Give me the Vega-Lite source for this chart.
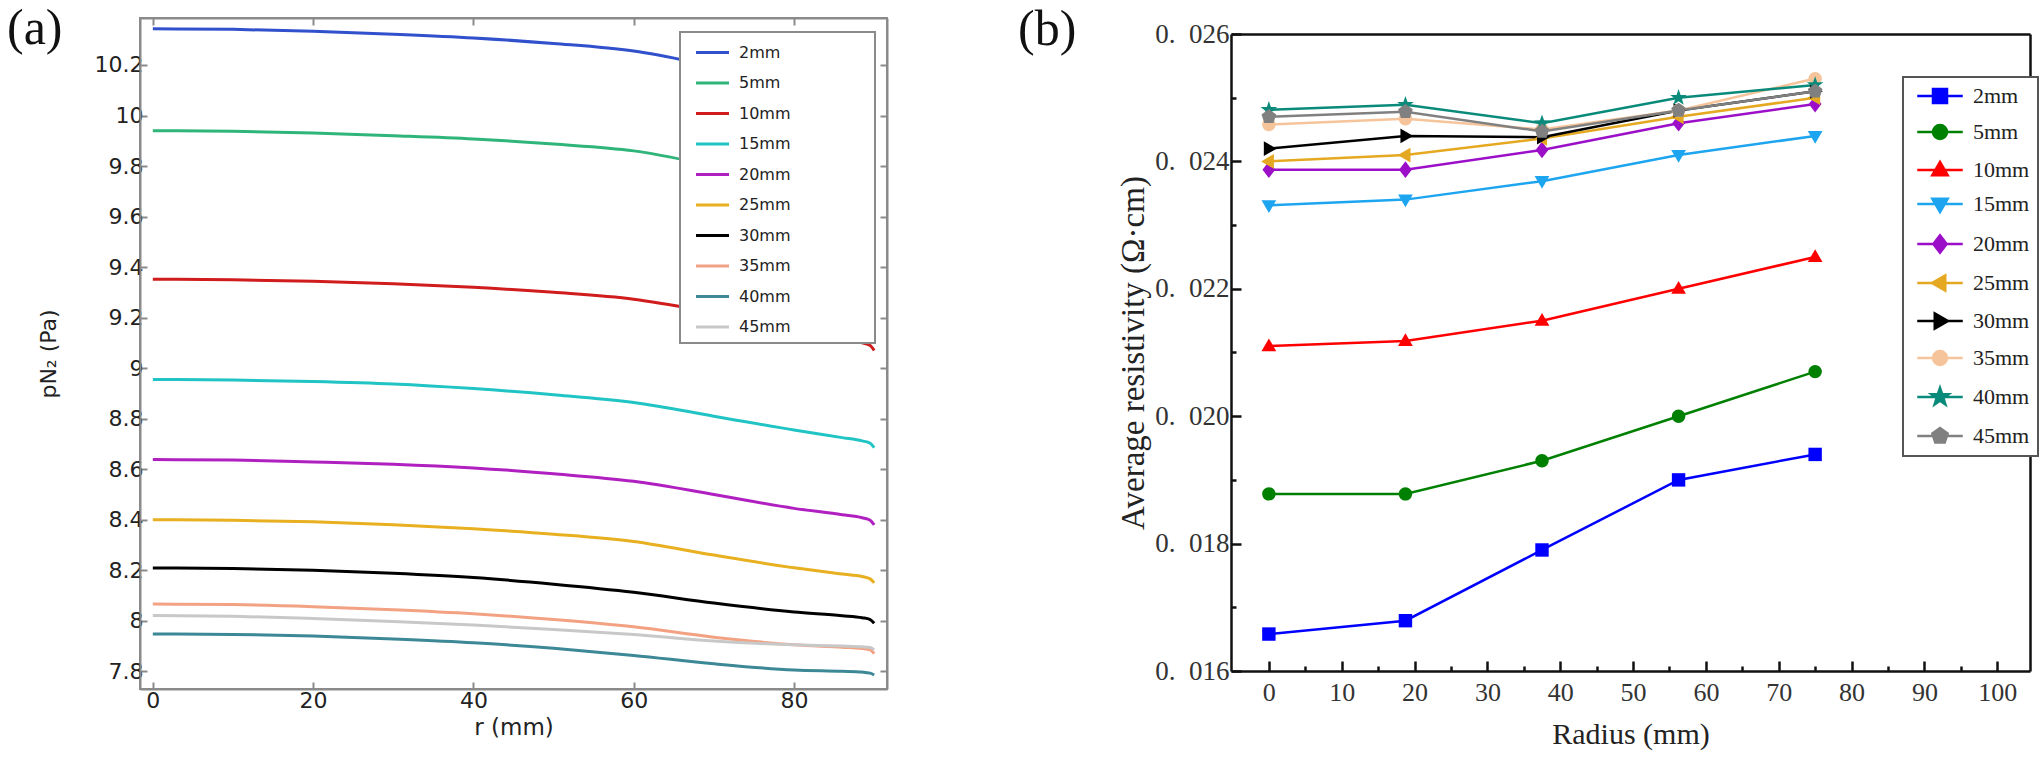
{
  "$schema": "https://vega.github.io/schema/vega-lite/v6.json",
  "background": "white",
  "padding": {"left": 6, "top": 3, "right": 2, "bottom": 2},
  "spacing": 129,
  "config": {"view": {"stroke": null}, "axis": {"grid": false}, "legend": {"strokeWidth": 2}},
  "datasets": {
    "pressure": [
      {"r": 0, "depth": "2mm", "p": 10.343}, {"r": 10, "depth": "2mm", "p": 10.341}, {"r": 20, "depth": "2mm", "p": 10.334}, {"r": 30, "depth": "2mm", "p": 10.322}, {"r": 40, "depth": "2mm", "p": 10.307}, {"r": 50, "depth": "2mm", "p": 10.285}, {"r": 60, "depth": "2mm", "p": 10.255}, {"r": 70, "depth": "2mm", "p": 10.195}, {"r": 80, "depth": "2mm", "p": 10.13}, {"r": 86, "depth": "2mm", "p": 10.09}, {"r": 88.5, "depth": "2mm", "p": 10.07}, {"r": 89.5, "depth": "2mm", "p": 10.055}, {"r": 90, "depth": "2mm", "p": 10.025},
      {"r": 0, "depth": "5mm", "p": 9.94}, {"r": 10, "depth": "5mm", "p": 9.938}, {"r": 20, "depth": "5mm", "p": 9.931}, {"r": 30, "depth": "5mm", "p": 9.92}, {"r": 40, "depth": "5mm", "p": 9.907}, {"r": 50, "depth": "5mm", "p": 9.887}, {"r": 60, "depth": "5mm", "p": 9.86}, {"r": 70, "depth": "5mm", "p": 9.8}, {"r": 80, "depth": "5mm", "p": 9.73}, {"r": 86, "depth": "5mm", "p": 9.69}, {"r": 88.5, "depth": "5mm", "p": 9.67}, {"r": 89.5, "depth": "5mm", "p": 9.655}, {"r": 90, "depth": "5mm", "p": 9.635},
      {"r": 0, "depth": "10mm", "p": 9.352}, {"r": 10, "depth": "10mm", "p": 9.35}, {"r": 20, "depth": "10mm", "p": 9.344}, {"r": 30, "depth": "10mm", "p": 9.334}, {"r": 40, "depth": "10mm", "p": 9.32}, {"r": 50, "depth": "10mm", "p": 9.3}, {"r": 60, "depth": "10mm", "p": 9.273}, {"r": 70, "depth": "10mm", "p": 9.22}, {"r": 80, "depth": "10mm", "p": 9.16}, {"r": 86, "depth": "10mm", "p": 9.12}, {"r": 88.5, "depth": "10mm", "p": 9.1}, {"r": 89.5, "depth": "10mm", "p": 9.09}, {"r": 90, "depth": "10mm", "p": 9.07},
      {"r": 0, "depth": "15mm", "p": 8.955}, {"r": 10, "depth": "15mm", "p": 8.953}, {"r": 20, "depth": "15mm", "p": 8.947}, {"r": 30, "depth": "15mm", "p": 8.937}, {"r": 40, "depth": "15mm", "p": 8.919}, {"r": 50, "depth": "15mm", "p": 8.895}, {"r": 60, "depth": "15mm", "p": 8.864}, {"r": 70, "depth": "15mm", "p": 8.81}, {"r": 80, "depth": "15mm", "p": 8.755}, {"r": 86, "depth": "15mm", "p": 8.725}, {"r": 88.5, "depth": "15mm", "p": 8.712}, {"r": 89.5, "depth": "15mm", "p": 8.703}, {"r": 90, "depth": "15mm", "p": 8.685},
      {"r": 0, "depth": "20mm", "p": 8.638}, {"r": 10, "depth": "20mm", "p": 8.636}, {"r": 20, "depth": "20mm", "p": 8.629}, {"r": 30, "depth": "20mm", "p": 8.62}, {"r": 40, "depth": "20mm", "p": 8.605}, {"r": 50, "depth": "20mm", "p": 8.582}, {"r": 60, "depth": "20mm", "p": 8.552}, {"r": 70, "depth": "20mm", "p": 8.5}, {"r": 80, "depth": "20mm", "p": 8.445}, {"r": 86, "depth": "20mm", "p": 8.42}, {"r": 88.5, "depth": "20mm", "p": 8.408}, {"r": 89.5, "depth": "20mm", "p": 8.398}, {"r": 90, "depth": "20mm", "p": 8.38},
      {"r": 0, "depth": "25mm", "p": 8.4}, {"r": 10, "depth": "25mm", "p": 8.398}, {"r": 20, "depth": "25mm", "p": 8.392}, {"r": 30, "depth": "25mm", "p": 8.38}, {"r": 40, "depth": "25mm", "p": 8.364}, {"r": 50, "depth": "25mm", "p": 8.343}, {"r": 60, "depth": "25mm", "p": 8.314}, {"r": 70, "depth": "25mm", "p": 8.26}, {"r": 80, "depth": "25mm", "p": 8.21}, {"r": 86, "depth": "25mm", "p": 8.185}, {"r": 88.5, "depth": "25mm", "p": 8.175}, {"r": 89.5, "depth": "25mm", "p": 8.166}, {"r": 90, "depth": "25mm", "p": 8.15},
      {"r": 0, "depth": "30mm", "p": 8.209}, {"r": 10, "depth": "30mm", "p": 8.207}, {"r": 20, "depth": "30mm", "p": 8.2}, {"r": 30, "depth": "30mm", "p": 8.188}, {"r": 40, "depth": "30mm", "p": 8.171}, {"r": 50, "depth": "30mm", "p": 8.145}, {"r": 60, "depth": "30mm", "p": 8.113}, {"r": 70, "depth": "30mm", "p": 8.07}, {"r": 80, "depth": "30mm", "p": 8.035}, {"r": 86, "depth": "30mm", "p": 8.02}, {"r": 88.5, "depth": "30mm", "p": 8.012}, {"r": 89.5, "depth": "30mm", "p": 8.005}, {"r": 90, "depth": "30mm", "p": 7.99},
      {"r": 0, "depth": "35mm", "p": 8.066}, {"r": 10, "depth": "35mm", "p": 8.064}, {"r": 20, "depth": "35mm", "p": 8.056}, {"r": 30, "depth": "35mm", "p": 8.044}, {"r": 40, "depth": "35mm", "p": 8.028}, {"r": 50, "depth": "35mm", "p": 8.005}, {"r": 60, "depth": "35mm", "p": 7.976}, {"r": 70, "depth": "35mm", "p": 7.935}, {"r": 80, "depth": "35mm", "p": 7.905}, {"r": 86, "depth": "35mm", "p": 7.895}, {"r": 88.5, "depth": "35mm", "p": 7.89}, {"r": 89.5, "depth": "35mm", "p": 7.885}, {"r": 90, "depth": "35mm", "p": 7.87},
      {"r": 0, "depth": "40mm", "p": 7.948}, {"r": 10, "depth": "40mm", "p": 7.946}, {"r": 20, "depth": "40mm", "p": 7.94}, {"r": 30, "depth": "40mm", "p": 7.928}, {"r": 40, "depth": "40mm", "p": 7.913}, {"r": 50, "depth": "40mm", "p": 7.891}, {"r": 60, "depth": "40mm", "p": 7.863}, {"r": 70, "depth": "40mm", "p": 7.83}, {"r": 80, "depth": "40mm", "p": 7.805}, {"r": 86, "depth": "40mm", "p": 7.8}, {"r": 88.5, "depth": "40mm", "p": 7.797}, {"r": 89.5, "depth": "40mm", "p": 7.793}, {"r": 90, "depth": "40mm", "p": 7.785},
      {"r": 0, "depth": "45mm", "p": 8.021}, {"r": 10, "depth": "45mm", "p": 8.018}, {"r": 20, "depth": "45mm", "p": 8.009}, {"r": 30, "depth": "45mm", "p": 7.997}, {"r": 40, "depth": "45mm", "p": 7.983}, {"r": 50, "depth": "45mm", "p": 7.966}, {"r": 60, "depth": "45mm", "p": 7.946}, {"r": 70, "depth": "45mm", "p": 7.92}, {"r": 80, "depth": "45mm", "p": 7.905}, {"r": 86, "depth": "45mm", "p": 7.9}, {"r": 88.5, "depth": "45mm", "p": 7.897}, {"r": 89.5, "depth": "45mm", "p": 7.894}, {"r": 90, "depth": "45mm", "p": 7.885}
    ],
    "resistivity": [
      {"radius": 0, "depth": "2mm", "rho": 0.01658}, {"radius": 18.75, "depth": "2mm", "rho": 0.01679}, {"radius": 37.5, "depth": "2mm", "rho": 0.0179}, {"radius": 56.25, "depth": "2mm", "rho": 0.019}, {"radius": 75, "depth": "2mm", "rho": 0.0194},
      {"radius": 0, "depth": "5mm", "rho": 0.01878}, {"radius": 18.75, "depth": "5mm", "rho": 0.01878}, {"radius": 37.5, "depth": "5mm", "rho": 0.0193}, {"radius": 56.25, "depth": "5mm", "rho": 0.02}, {"radius": 75, "depth": "5mm", "rho": 0.0207},
      {"radius": 0, "depth": "10mm", "rho": 0.0211}, {"radius": 18.75, "depth": "10mm", "rho": 0.02118}, {"radius": 37.5, "depth": "10mm", "rho": 0.0215}, {"radius": 56.25, "depth": "10mm", "rho": 0.022}, {"radius": 75, "depth": "10mm", "rho": 0.0225},
      {"radius": 0, "depth": "15mm", "rho": 0.02331}, {"radius": 18.75, "depth": "15mm", "rho": 0.0234}, {"radius": 37.5, "depth": "15mm", "rho": 0.02369}, {"radius": 56.25, "depth": "15mm", "rho": 0.0241}, {"radius": 75, "depth": "15mm", "rho": 0.0244},
      {"radius": 0, "depth": "20mm", "rho": 0.02387}, {"radius": 18.75, "depth": "20mm", "rho": 0.02387}, {"radius": 37.5, "depth": "20mm", "rho": 0.02418}, {"radius": 56.25, "depth": "20mm", "rho": 0.0246}, {"radius": 75, "depth": "20mm", "rho": 0.0249},
      {"radius": 0, "depth": "25mm", "rho": 0.024}, {"radius": 18.75, "depth": "25mm", "rho": 0.0241}, {"radius": 37.5, "depth": "25mm", "rho": 0.02436}, {"radius": 56.25, "depth": "25mm", "rho": 0.0247}, {"radius": 75, "depth": "25mm", "rho": 0.025},
      {"radius": 0, "depth": "30mm", "rho": 0.0242}, {"radius": 18.75, "depth": "30mm", "rho": 0.0244}, {"radius": 37.5, "depth": "30mm", "rho": 0.02438}, {"radius": 56.25, "depth": "30mm", "rho": 0.0248}, {"radius": 75, "depth": "30mm", "rho": 0.0251},
      {"radius": 0, "depth": "35mm", "rho": 0.02458}, {"radius": 18.75, "depth": "35mm", "rho": 0.02467}, {"radius": 37.5, "depth": "35mm", "rho": 0.0245}, {"radius": 56.25, "depth": "35mm", "rho": 0.0248}, {"radius": 75, "depth": "35mm", "rho": 0.0253},
      {"radius": 0, "depth": "40mm", "rho": 0.02481}, {"radius": 18.75, "depth": "40mm", "rho": 0.02489}, {"radius": 37.5, "depth": "40mm", "rho": 0.0246}, {"radius": 56.25, "depth": "40mm", "rho": 0.025}, {"radius": 75, "depth": "40mm", "rho": 0.0252},
      {"radius": 0, "depth": "45mm", "rho": 0.0247}, {"radius": 18.75, "depth": "45mm", "rho": 0.02478}, {"radius": 37.5, "depth": "45mm", "rho": 0.02447}, {"radius": 56.25, "depth": "45mm", "rho": 0.0248}, {"radius": 75, "depth": "45mm", "rho": 0.0251}
    ]
  },
  "resolve": {"scale": {"color": "independent"}, "legend": {"color": "independent"}},
  "hconcat": [
    {
      "width": 747,
      "height": 671,
      "data": {"name": "pressure"},
      "view": {"stroke": "#8a8a8a", "strokeWidth": 2},
      "title": {"text": "(a)", "font": "Liberation Serif", "fontSize": 50, "fontWeight": "normal", "color": "#111", "anchor": "start", "frame": "group", "offset": 0, "dx": -133, "dy": 37},
      "layer": [
        {
          "mark": {"type": "line", "strokeWidth": 3, "interpolate": "monotone"},
          "encoding": {
            "x": {"field": "r", "type": "quantitative",
              "scale": {"domain": [-1.6, 91.6], "nice": false, "zero": false},
              "axis": {"orient": "bottom", "values": [0, 20, 40, 60, 80], "title": "r (mm)", "tickSize": -7, "tickWidth": 2, "tickColor": "#8a8a8a", "domainColor": "#8a8a8a", "domainWidth": 2, "labelFont": "DejaVu Sans", "labelFontSize": 22, "labelColor": "#222", "labelPadding": 8, "titleFont": "DejaVu Sans", "titleFontSize": 23, "titleFontWeight": "normal", "titleColor": "#222", "titlePadding": 5}},
            "y": {"field": "p", "type": "quantitative",
              "scale": {"domain": [7.73, 10.386], "nice": false, "zero": false},
              "axis": {"orient": "left", "values": [7.8, 8, 8.2, 8.4, 8.6, 8.8, 9, 9.2, 9.4, 9.6, 9.8, 10, 10.2], "format": "~g", "title": "pN₂ (Pa)", "tickSize": -7, "tickWidth": 2, "tickColor": "#8a8a8a", "domainColor": "#8a8a8a", "domainWidth": 2, "labelFont": "DejaVu Sans", "labelFontSize": 22, "labelColor": "#222", "labelPadding": 4, "titleFont": "DejaVu Sans", "titleFontSize": 22, "titleFontWeight": "normal", "titleColor": "#222", "titlePadding": 34}},
            "color": {"field": "depth", "type": "nominal",
              "scale": {"domain": ["2mm", "5mm", "10mm", "15mm", "20mm", "25mm", "30mm", "35mm", "40mm", "45mm"],
                "range": ["#3050cc", "#2fb47a", "#d01c1c", "#20c4c4", "#b01fc0", "#e8b020", "#000000", "#f2a283", "#3d8896", "#c8c8c8"]},
              "legend": {"orient": "none", "legendX": 540, "legendY": 14, "zindex": 1, "title": null, "fillColor": "white", "strokeColor": "#8a8a8a", "padding": 8, "symbolType": "M-1.5,0H1.5", "symbolSize": 484, "symbolStrokeWidth": 3, "symbolOffset": 12, "labelOffset": 14, "rowPadding": 9.5, "labelFont": "DejaVu Sans", "labelFontSize": 16, "labelColor": "#222",
                "encode": {"labels": {"update": {"text": {"signal": "datum.label + '\u00a0\u00a0\u00a0\u00a0\u00a0\u00a0\u00a0\u00a0\u00a0\u00a0\u00a0\u00a0\u00a0\u00a0\u00a0\u200b'"}}}}}}
          }
        },
        {
          "mark": {"type": "line", "opacity": 0},
          "encoding": {
            "x": {"field": "r", "type": "quantitative",
              "scale": {"domain": [-1.6, 91.6], "nice": false, "zero": false},
              "axis": {"orient": "top", "values": [0, 20, 40, 60, 80], "labels": false, "title": null, "tickSize": -7, "tickWidth": 2, "tickColor": "#8a8a8a", "domainColor": "#8a8a8a", "domainWidth": 2}},
            "y": {"field": "p", "type": "quantitative",
              "scale": {"domain": [7.73, 10.386], "nice": false, "zero": false},
              "axis": {"orient": "right", "values": [7.8, 8, 8.2, 8.4, 8.6, 8.8, 9, 9.2, 9.4, 9.6, 9.8, 10, 10.2], "labels": false, "title": null, "tickSize": -7, "tickWidth": 2, "tickColor": "#8a8a8a", "domainColor": "#8a8a8a", "domainWidth": 2}},
            "detail": {"field": "depth"}
          }
        }
      ],
      "resolve": {"axis": {"x": "independent", "y": "independent"}}
    },
    {
      "width": 799,
      "height": 653,
      "data": {"name": "resistivity"},
      "title": {"text": "(b)", "font": "Liberation Serif", "fontSize": 50, "fontWeight": "normal", "color": "#111", "anchor": "start", "frame": "group", "offset": 0, "dx": -213, "dy": 37},
      "layer": [
        {
          "mark": {"type": "line", "strokeWidth": 2.5},
          "encoding": {
            "x": {"field": "radius", "type": "quantitative",
              "scale": {"domain": [-5.2, 104.5], "nice": false, "zero": false},
              "axis": {"orient": "bottom", "values": [0, 10, 20, 30, 40, 50, 60, 70, 80, 90, 100], "title": "Radius (mm)", "tickSize": -10, "tickWidth": 2.5, "tickColor": "#111", "domainColor": "#111", "domainWidth": 2.5, "labelFont": "Liberation Serif", "labelFontSize": 26, "labelColor": "#333", "labelPadding": 18, "titleFont": "Liberation Serif", "titleFontSize": 30, "titleFontWeight": "normal", "titleColor": "#222", "titlePadding": 14}},
            "y": {"field": "rho", "type": "quantitative",
              "scale": {"domain": [0.016, 0.026], "range": [653, 16], "nice": false, "zero": false},
              "axis": {"orient": "left", "values": [0.016, 0.018, 0.02, 0.022, 0.024, 0.026], "labelExpr": "replace(format(datum.value, '.3f'), '.', '.\u2002')", "title": "Average resistivity (Ω·cm)", "tickSize": -10, "tickWidth": 2.5, "tickColor": "#111", "domainColor": "#111", "domainWidth": 2.5, "labelFont": "Liberation Serif", "labelFontSize": 27, "labelColor": "#333", "labelPadding": 12, "titleFont": "Liberation Serif", "titleFontSize": 33, "titleFontWeight": "normal", "titleColor": "#222", "titlePadding": 4}},
            "color": {"field": "depth", "type": "nominal",
              "scale": {"domain": ["2mm", "5mm", "10mm", "15mm", "20mm", "25mm", "30mm", "35mm", "40mm", "45mm"],
                "range": ["#0000ff", "#008000", "#ff0000", "#1ea5f0", "#9c0fc8", "#e5a821", "#000000", "#f6c49a", "#0a8a7a", "#808080"]},
              "legend": {"orient": "none", "legendX": 672, "legendY": 59, "zindex": 1, "title": null, "fillColor": "white", "strokeColor": "#555", "padding": 8, "symbolSize": 196, "symbolOffset": 18, "labelOffset": 22, "rowPadding": 12, "labelFont": "Liberation Serif", "labelFontSize": 22, "labelColor": "#222",
                "encode": {
                  "symbols": {"update": {
                    "strokeWidth": {"value": 2.5},
                    "opacity": {"value": 1},
                    "fill": {"signal": "datum.value === '2mm' ? '#0000ff' : datum.value === '5mm' ? '#008000' : datum.value === '10mm' ? '#ff0000' : datum.value === '15mm' ? '#1ea5f0' : datum.value === '20mm' ? '#9c0fc8' : datum.value === '25mm' ? '#e5a821' : datum.value === '30mm' ? '#000000' : datum.value === '35mm' ? '#f6c49a' : datum.value === '40mm' ? '#0a8a7a' : '#808080'"},
                    "stroke": {"signal": "datum.value === '2mm' ? '#0000ff' : datum.value === '5mm' ? '#008000' : datum.value === '10mm' ? '#ff0000' : datum.value === '15mm' ? '#1ea5f0' : datum.value === '20mm' ? '#9c0fc8' : datum.value === '25mm' ? '#e5a821' : datum.value === '30mm' ? '#000000' : datum.value === '35mm' ? '#f6c49a' : datum.value === '40mm' ? '#0a8a7a' : '#808080'"},
                    "shape": {"signal": "(datum.value === '2mm' ? 'M-1,-1H1V1H-1Z' : datum.value === '5mm' ? 'M1,0A1,1,0,1,1,-1,0A1,1,0,1,1,1,0Z' : datum.value === '10mm' ? 'M0,-1.15L1.1,0.75L-1.1,0.75Z' : datum.value === '15mm' ? 'M0,1.15L1.1,-0.75L-1.1,-0.75Z' : datum.value === '20mm' ? 'M0,-1.25L0.95,0L0,1.25L-0.95,0Z' : datum.value === '25mm' ? 'M-1.15,0L0.75,-1.1L0.75,1.1Z' : datum.value === '30mm' ? 'M1.15,0L-0.75,-1.1L-0.75,1.1Z' : datum.value === '35mm' ? 'M1,0A1,1,0,1,1,-1,0A1,1,0,1,1,1,0Z' : datum.value === '40mm' ? 'M0,-1.3L0.306,-0.421L1.236,-0.402L0.495,0.161L0.764,1.052L0,0.52L-0.764,1.052L-0.495,0.161L-1.236,-0.402L-0.306,-0.421Z' : 'M0,-1.15L1.094,-0.355L0.676,0.93L-0.676,0.93L-1.094,-0.355Z') + 'M-3.25,0H3.25'"}
                  }}}}},
            "detail": {"field": "depth"}
          }
        },
        {
          "mark": {"type": "point", "filled": true, "opacity": 1, "size": 180},
          "encoding": {
            "x": {"field": "radius", "type": "quantitative",
              "scale": {"domain": [-5.2, 104.5], "nice": false, "zero": false},
              "axis": {"orient": "bottom", "values": [5, 15, 25, 35, 45, 55, 65, 75, 85, 95], "labels": false, "domain": false, "title": null, "tickSize": -5, "tickWidth": 2.5, "tickColor": "#111"}},
            "y": {"field": "rho", "type": "quantitative",
              "scale": {"domain": [0.016, 0.026], "range": [653, 16], "nice": false, "zero": false},
              "axis": {"orient": "left", "values": [0.017, 0.019, 0.021, 0.023, 0.025], "labels": false, "domain": false, "title": null, "tickSize": -5, "tickWidth": 2.5, "tickColor": "#111"}},
            "color": {"field": "depth", "type": "nominal",
              "scale": {"domain": ["2mm", "5mm", "10mm", "15mm", "20mm", "25mm", "30mm", "35mm", "40mm", "45mm"],
                "range": ["#0000ff", "#008000", "#ff0000", "#1ea5f0", "#9c0fc8", "#e5a821", "#000000", "#f6c49a", "#0a8a7a", "#808080"]},
              "legend": {"orient": "none", "legendX": 672, "legendY": 59, "zindex": 1, "title": null, "fillColor": "white", "strokeColor": "#555", "padding": 8, "symbolSize": 196, "symbolOffset": 18, "labelOffset": 22, "rowPadding": 12, "labelFont": "Liberation Serif", "labelFontSize": 22, "labelColor": "#222",
                "encode": {
                  "symbols": {"update": {
                    "strokeWidth": {"value": 2.5},
                    "opacity": {"value": 1},
                    "fill": {"signal": "datum.value === '2mm' ? '#0000ff' : datum.value === '5mm' ? '#008000' : datum.value === '10mm' ? '#ff0000' : datum.value === '15mm' ? '#1ea5f0' : datum.value === '20mm' ? '#9c0fc8' : datum.value === '25mm' ? '#e5a821' : datum.value === '30mm' ? '#000000' : datum.value === '35mm' ? '#f6c49a' : datum.value === '40mm' ? '#0a8a7a' : '#808080'"},
                    "stroke": {"signal": "datum.value === '2mm' ? '#0000ff' : datum.value === '5mm' ? '#008000' : datum.value === '10mm' ? '#ff0000' : datum.value === '15mm' ? '#1ea5f0' : datum.value === '20mm' ? '#9c0fc8' : datum.value === '25mm' ? '#e5a821' : datum.value === '30mm' ? '#000000' : datum.value === '35mm' ? '#f6c49a' : datum.value === '40mm' ? '#0a8a7a' : '#808080'"},
                    "shape": {"signal": "(datum.value === '2mm' ? 'M-1,-1H1V1H-1Z' : datum.value === '5mm' ? 'M1,0A1,1,0,1,1,-1,0A1,1,0,1,1,1,0Z' : datum.value === '10mm' ? 'M0,-1.15L1.1,0.75L-1.1,0.75Z' : datum.value === '15mm' ? 'M0,1.15L1.1,-0.75L-1.1,-0.75Z' : datum.value === '20mm' ? 'M0,-1.25L0.95,0L0,1.25L-0.95,0Z' : datum.value === '25mm' ? 'M-1.15,0L0.75,-1.1L0.75,1.1Z' : datum.value === '30mm' ? 'M1.15,0L-0.75,-1.1L-0.75,1.1Z' : datum.value === '35mm' ? 'M1,0A1,1,0,1,1,-1,0A1,1,0,1,1,1,0Z' : datum.value === '40mm' ? 'M0,-1.3L0.306,-0.421L1.236,-0.402L0.495,0.161L0.764,1.052L0,0.52L-0.764,1.052L-0.495,0.161L-1.236,-0.402L-0.306,-0.421Z' : 'M0,-1.15L1.094,-0.355L0.676,0.93L-0.676,0.93L-1.094,-0.355Z') + 'M-3.25,0H3.25'"}
                  }}}}},
            "shape": {"field": "depth", "type": "nominal",
              "scale": {"domain": ["2mm", "5mm", "10mm", "15mm", "20mm", "25mm", "30mm", "35mm", "40mm", "45mm"],
                "range": ["M-1,-1H1V1H-1Z", "M1,0A1,1,0,1,1,-1,0A1,1,0,1,1,1,0Z", "M0,-1.15L1.1,0.75L-1.1,0.75Z", "M0,1.15L1.1,-0.75L-1.1,-0.75Z", "M0,-1.25L0.95,0L0,1.25L-0.95,0Z", "M-1.15,0L0.75,-1.1L0.75,1.1Z", "M1.15,0L-0.75,-1.1L-0.75,1.1Z", "M1,0A1,1,0,1,1,-1,0A1,1,0,1,1,1,0Z", "M0,-1.3L0.306,-0.421L1.236,-0.402L0.495,0.161L0.764,1.052L0,0.52L-0.764,1.052L-0.495,0.161L-1.236,-0.402L-0.306,-0.421Z", "M0,-1.15L1.094,-0.355L0.676,0.93L-0.676,0.93L-1.094,-0.355Z"]},
              "legend": null}
          }
        },
        {
          "mark": {"type": "point", "opacity": 0},
          "encoding": {
            "x": {"field": "radius", "type": "quantitative",
              "scale": {"domain": [-5.2, 104.5], "nice": false, "zero": false},
              "axis": {"orient": "top", "offset": -16, "values": [0], "labels": false, "ticks": false, "domain": true, "domainColor": "#111", "domainWidth": 2.5, "title": null}},
            "y": {"field": "rho", "type": "quantitative",
              "scale": {"domain": [0.016, 0.026], "range": [653, 16], "nice": false, "zero": false},
              "axis": {"orient": "right", "values": [0.02], "labels": false, "ticks": false, "domain": true, "domainColor": "#111", "domainWidth": 2.5, "title": null}}
          }
        }
      ],
      "resolve": {"axis": {"x": "independent", "y": "independent"}}
    }
  ]
}
